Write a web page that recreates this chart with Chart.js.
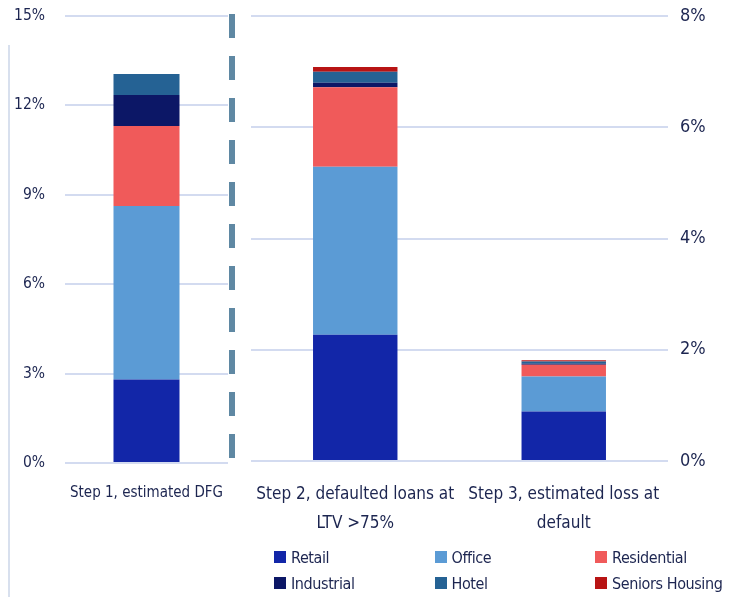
<!DOCTYPE html>
<html>
<head>
<meta charset="utf-8">
<script src="https://cdn.jsdelivr.net/npm/chart.js@4"></script>
<style>
  body { margin: 0; background: #fff; }
  #wrap { position: relative; width: 737px; height: 597px; overflow: hidden; font-family: "Liberation Sans Narrow", "DejaVu Sans Condensed", sans-serif; }
  #leftBox { position: absolute; left: 0; top: 0; width: 240px; height: 597px; }
  #rightBox { position: absolute; left: 240px; top: 0; width: 497px; height: 597px; }
  #edge { position: absolute; left: 8px; top: 45px; width: 2px; height: 552px; background: #d8e0ee; }
  #legend { position: absolute; left: 274px; top: 547px; width: 470px; }
  .item { position: absolute; display: flex; align-items: center; font-size: 16px; letter-spacing: -0.4px; height: 20px; color: #1c2550; white-space: nowrap; }
  .item span.box { width: 12px; height: 12px; margin-right: 5px; display: inline-block; }
</style>
</head>
<body>
<div id="wrap">
  <div id="edge"></div>
  <div id="leftBox"><canvas id="leftChart"></canvas></div>
  <div id="rightBox"><canvas id="rightChart"></canvas></div>
  <div id="legend"></div>
</div>
<script>
// categories
const categories = [
	'Step 1, estimated DFG',
	['Step 2, defaulted loans at', 'LTV >75%'],
	['Step 3, estimated loss at', 'default']
];

// values in % (step 1 on left axis, steps 2-3 on right axis)
const retail      = [2.80, 2.27, 0.89];
const office      = [5.82, 3.02, 0.63];
const residential = [2.69, 1.43, 0.21];
const industrial  = [1.04, 0.08, 0.02];
const hotel       = [0.70, 0.20, 0.04];
const seniors     = [0.00, 0.085, 0.02];

const seriesNames  = ['Retail', 'Office', 'Residential', 'Industrial', 'Hotel', 'Seniors Housing'];
const seriesColors = ['#1226a8', '#5b9bd5', '#f05a5a', '#0c1766', '#256294', '#b81414'];
const allSeries = [retail, office, residential, industrial, hotel, seniors];

const leftTicks  = [0, 3, 6, 9, 12, 15];
const rightTicks = [0, 2, 4, 6, 8];

const textColor = '#1c2550';
const gridColor = '#d3dbf0';
const fontFam = '"Liberation Sans Narrow", "DejaVu Sans Condensed", sans-serif';

function makeSets(from, to) {
	return seriesNames.map((name, i) => ({
		label: name,
		data: allSeries[i].slice(from, to),
		backgroundColor: seriesColors[i],
		borderWidth: 0,
		barPercentage: 1,
		categoryPercentage: 0.405
	}));
}

// dashed divider between the two panels
const dividerPlugin = {
	id: 'divider',
	afterDraw(chart) {
		const ctx = chart.ctx;
		ctx.save();
		ctx.strokeStyle = '#5f88a3';
		ctx.lineWidth = 6;
		ctx.setLineDash([24, 18]);
		ctx.beginPath();
		ctx.moveTo(232, 14);
		ctx.lineTo(232, 460);
		ctx.stroke();
		ctx.restore();
	}
};

const leftChart = new Chart(document.getElementById('leftChart'), {
	type: 'bar',
	data: { labels: [categories[0]], datasets: makeSets(0, 1) },
	options: {
		responsive: true,
		maintainAspectRatio: false,
		animation: false,
		layout: { padding: { top: 16, right: 12, left: 0, bottom: 0 } },
		plugins: { legend: { display: false }, tooltip: { enabled: false } },
		scales: {
			x: {
				stacked: true,
				grid: { display: false },
				border: { display: false },
				ticks: { color: textColor, font: { family: fontFam, size: 15 }, padding: 13, maxRotation: 0 },
				afterFit(scale) { scale.height = 134; scale.paddingLeft = 0; scale.paddingRight = 0; }
			},
			y: {
				stacked: true,
				min: 0, max: 15,
				afterBuildTicks(scale) { scale.ticks = leftTicks.map(v => ({ value: v })); },
				grid: { color: gridColor, lineWidth: 2, drawTicks: false },
				border: { display: false },
				ticks: { color: textColor, font: { family: fontFam, size: 15.5 }, padding: 20, callback: v => v + '%' },
				afterFit(scale) { scale.width = 65; scale.paddingTop = 0; scale.paddingBottom = 0; }
			}
		}
	},
	plugins: [dividerPlugin]
});

const rightChart = new Chart(document.getElementById('rightChart'), {
	type: 'bar',
	data: { labels: categories.slice(1), datasets: makeSets(1, 3) },
	options: {
		responsive: true,
		maintainAspectRatio: false,
		animation: false,
		layout: { padding: { top: 16, right: 0, left: 11, bottom: 0 } },
		plugins: { legend: { display: false }, tooltip: { enabled: false } },
		scales: {
			x: {
				stacked: true,
				grid: { display: false },
				border: { display: false },
				ticks: { color: textColor, font: { family: fontFam, size: 17, lineHeight: 1.7 }, padding: 11, maxRotation: 0, autoSkip: false },
				afterFit(scale) { scale.height = 136; scale.paddingLeft = 0; scale.paddingRight = 0; }
			},
			y: {
				position: 'right',
				stacked: true,
				min: 0, max: 8,
				afterBuildTicks(scale) { scale.ticks = rightTicks.map(v => ({ value: v })); },
				grid: { color: gridColor, lineWidth: 2, drawTicks: false },
				border: { display: false },
				ticks: { color: textColor, font: { family: fontFam, size: 18 }, padding: 12, callback: v => v + '%' },
				afterFit(scale) { scale.width = 69; scale.paddingTop = 0; scale.paddingBottom = 0; }
			}
		}
	}
});

// legend in three columns, two rows, built from the datasets
const legendEl = document.getElementById('legend');
rightChart.data.datasets.forEach((ds, i) => {
	const col = i % 3, row = Math.floor(i / 3);
	const div = document.createElement('div');
	div.className = 'item';
	div.style.left = (col * 160.5) + 'px';
	div.style.top = (row * 26) + 'px';
	div.innerHTML = '<span class="box" style="background:' + ds.backgroundColor + '"></span>' + ds.label;
	legendEl.appendChild(div);
});
</script>
</body>
</html>
